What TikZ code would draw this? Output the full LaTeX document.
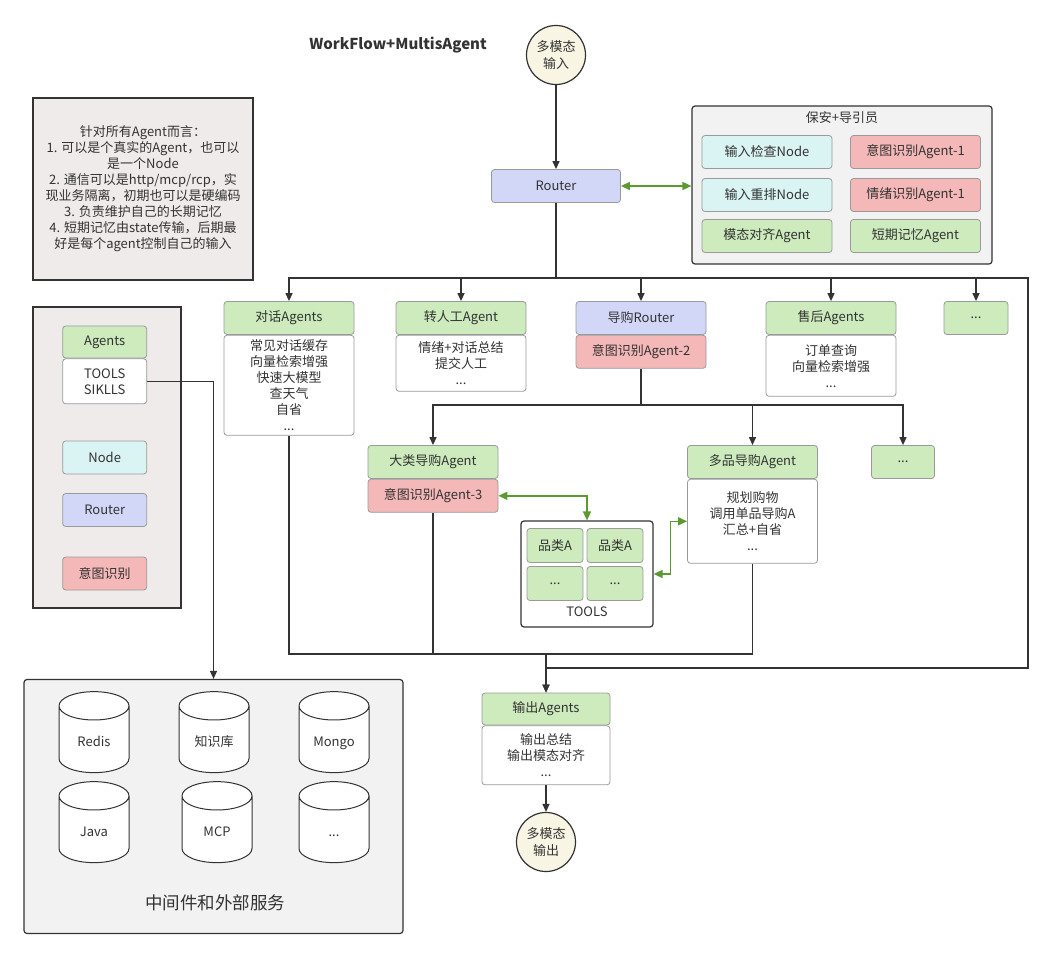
\documentclass[tikz,border=0pt]{standalone}
\usepackage{fontspec}
\setmainfont{Noto Sans CJK SC}
\usetikzlibrary{arrows.meta,shapes.geometric}
\definecolor{agentgreen}{HTML}{CDEBBC}
\definecolor{nodecyan}{HTML}{DAF3F3}
\definecolor{routerblue}{HTML}{D3D7F7}
\definecolor{intentred}{HTML}{F4B8B8}
\definecolor{circfill}{HTML}{F8F5E4}
\definecolor{noteback}{HTML}{EFEBEA}
\definecolor{panelback}{HTML}{F2F2F2}
\definecolor{boxline}{HTML}{9A9A9A}
\definecolor{wireline}{HTML}{333333}
\definecolor{linkgreen}{HTML}{5A9A2E}

\begin{document}
\begin{tikzpicture}[x=1pt,y=-1pt,>={Triangle[length=8pt,width=7pt]},
  every node/.style={font=\fontsize{13}{16}\selectfont,text=black!80},
  cell/.style={draw=boxline,line width=0.8pt,rounded corners=3pt,minimum width=130pt,minimum height=33pt,inner sep=0pt},
  agentbox/.style={cell,fill=agentgreen},
  nodebox/.style={cell,fill=nodecyan},
  routerbox/.style={cell,fill=routerblue},
  intentbox/.style={cell,fill=intentred},
  bodybox/.style={cell,fill=white,align=center,anchor=north},
  panel/.style={draw=wireline,line width=1.2pt,rounded corners=3pt,fill=panelback,inner sep=0pt},
  terminal/.style={circle,draw=wireline,line width=1.2pt,fill=circfill,minimum size=59pt,inner sep=0pt,align=center,font=\fontsize{13}{17}\selectfont},
  db/.style={cylinder,shape border rotate=90,aspect=0.5,draw=wireline,line width=1pt,fill=white,minimum width=70pt,minimum height=81pt,text width=50pt,align=center,text height=10pt,text depth=3pt},
  wire/.style={draw=wireline,line width=1.3pt},
  flow/.style={wire,->},
  link/.style={draw=linkgreen,line width=1.5pt,{Triangle[length=9pt,width=8pt]}-{Triangle[length=9pt,width=8pt]}}]
  \useasboundingbox (0,0) rectangle (1054,957);

  \node[font=\bfseries\fontsize{15}{18}\selectfont] (title) at (398,45) {WorkFlow+MultisAgent};
  \node[panel,fill=noteback,rounded corners=0pt,minimum width=220pt,minimum height=182pt,align=center] (note) at (143,189)
    {针对所有Agent而言：\\1. 可以是个真实的Agent，也可以\\是一个Node\\2. 通信可以是http/mcp/rcp，实\\现业务隔离，初期也可以是硬编码\\3. 负责维护自己的长期记忆\\4. 短期记忆由state传输，后期最\\好是每个agent控制自己的输入};

  \node[terminal] (in) at (556,55) {多模态\\输入};
  \node[routerbox,minimum width=129pt] (router) at (556,186) {Router};

  \node[panel,minimum width=300pt,minimum height=158pt] (guard) at (842,185) {};
  \node (guardtitle) at (842,118) {保安+导引员};
  \node[nodebox] (check) at (767,152) {输入检查Node};
  \node[intentbox] (intent1) at (915.5,152) {意图识别Agent-1};
  \node[nodebox] (rerank) at (767,195) {输入重排Node};
  \node[intentbox] (mood) at (915.5,195) {情绪识别Agent-1};
  \node[agentbox] (modal) at (767,236) {模态对齐Agent};
  \node[agentbox] (memory) at (915.5,236) {短期记忆Agent};

  \node[agentbox] (chat) at (289,318) {对话Agents};
  \node[bodybox,minimum height=100pt] (chatbody) at (chat.south) {常见对话缓存\\向量检索增强\\快速大模型\\查天气\\自省\\...};
  \node[agentbox] (human) at (461,318) {转人工Agent};
  \node[bodybox,minimum height=56pt] (humanbody) at (human.south) {情绪+对话总结\\提交人工\\...};
  \node[routerbox] (shop) at (641,318) {导购Router};
  \node[intentbox,anchor=north] (intent2) at (shop.south) {意图识别Agent-2};
  \node[agentbox] (after) at (831,318) {售后Agents};
  \node[bodybox,minimum height=61pt] (afterbody) at (after.south) {订单查询\\向量检索增强\\...};
  \node[agentbox,minimum width=64pt] (more) at (976,318) {...};

  \node[agentbox] (big) at (433,462) {大类导购Agent};
  \node[intentbox,anchor=north] (intent3) at (big.south) {意图识别Agent-3};
  \node[agentbox] (multi) at (752.5,462) {多品导购Agent};
  \node[bodybox,minimum height=84pt] (multibody) at (multi.south) {规划购物\\调用单品导购A\\汇总+自省\\...};
  \node[agentbox,minimum width=63pt] (more2) at (903,462) {...};

  \node[panel,fill=white,minimum width=132pt,minimum height=106pt] (tools) at (587,574) {};
  \node[agentbox,minimum width=56pt,minimum height=34pt] (catA) at (555,545.5) {品类A};
  \node[agentbox,minimum width=56pt,minimum height=34pt] (catB) at (615,545.5) {品类A};
  \node[agentbox,minimum width=56pt,minimum height=34pt] (catC) at (555,583.5) {...};
  \node[agentbox,minimum width=56pt,minimum height=34pt] (catD) at (615,583.5) {...};
  \node (toolslabel) at (587,612) {TOOLS};

  \node[agentbox,minimum width=128pt,minimum height=32pt] (out) at (546,709) {输出Agents};
  \node[bodybox,minimum width=128pt,minimum height=59pt] (outbody) at (out.south) {输出总结\\输出模态对齐\\...};
  \node[terminal] (outc) at (546,842) {多模态\\输出};

  \node[panel,fill=noteback,rounded corners=0pt,minimum width=148pt,minimum height=301pt] (legend) at (107,457.5) {};
  \node[agentbox,minimum width=84pt,minimum height=32pt] (legagent) at (104.7,342) {Agents};
  \node[bodybox,minimum width=84pt,minimum height=45pt] (legbody) at (legagent.south) {TOOLS\\SIKLLS};
  \node[nodebox,minimum width=84pt] (legnode) at (104.7,457.5) {Node};
  \node[routerbox,minimum width=84pt] (legrouter) at (104.7,510) {Router};
  \node[intentbox,minimum width=84pt] (legintent) at (104.7,573.5) {意图识别};

  \node[panel,minimum width=379pt,minimum height=254pt] (mid) at (213.5,806.5) {};
  \node[db] (redis) at (94,742.5) {Redis};
  \node[db] (kb) at (214,742.5) {知识库};
  \node[db] (mongo) at (334,742.5) {Mongo};
  \node[db] (java) at (94,832.5) {Java};
  \node[db] (mcp) at (217,832.5) {MCP};
  \node[db] (moredb) at (334,832.5) {...};
  \node[font=\fontsize{17.5}{20}\selectfont] (midlabel) at (215,903) {中间件和外部服务};

  \coordinate (bus) at (556,278);
  \coordinate (sbus) at (641,405);
  \coordinate (merge) at (546,654);
  \coordinate (rbend) at (1028,668);
  \draw[flow] (in) -- (router);
  \draw[wire] (router) -- (bus);
  \foreach \t in {chat,human,shop,after,more} \draw[flow] (bus) -| (\t.north);
  \draw[flow] (bus) -| (rbend) -| (out.north);
  \draw[wire] (intent2) -- (sbus);
  \foreach \t in {big,multi,more2} \draw[flow] (sbus) -| (\t.north);
  \draw[wire] (chatbody.south) |- (merge);
  \draw[wire] (intent3.south) |- (merge);
  \draw[wire] (multibody.south) |- (merge);
  \draw[flow] (merge) -- (out.north);
  \draw[flow] (outbody) -- (outc);
  \draw[flow] (legbody.east) -| (mid.north);
  \draw[link] (router.east) -- (router.east -| guard.west);
  \draw[link] (intent3.east) -| (tools.north);
  \draw[link] (tools.east) -- ++(17,0) |- (multibody.west);
\end{tikzpicture}
\end{document}
